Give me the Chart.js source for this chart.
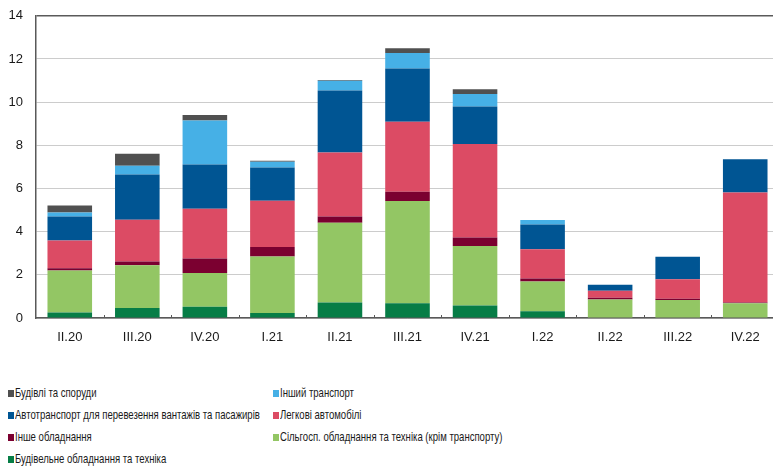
<!DOCTYPE html>
<html lang="uk">
<head>
  <meta charset="UTF-8">
  <title>Інвестиції в обладнання</title>
  <script src="https://cdn.jsdelivr.net/npm/chart.js"></script>
  <style>
    html, body {
      margin: 0;
      padding: 0;
      background: #fff;
      overflow: hidden;
    }
    #wrap {
      position: relative;
      width: 779px;
      height: 357px;
      margin-top: -5px;
    }
    #legend {
      position: absolute;
      left: 0;
      top: 383px;
      width: 773px;
      font-family: "Liberation Sans", Arial, sans-serif;
      font-size: 13px;
      color: #1a1a1a;
    }
    .item {
      position: absolute;
      height: 20px;
      line-height: 20px;
      white-space: nowrap;
    }
    .box {
      display: inline-block;
      width: 6px;
      height: 7px;
      margin-right: 1px;
      vertical-align: 0px;
    }
    .txt {
      display: inline-block;
      transform: scaleX(0.735);
      transform-origin: 0 50%;
    }
  </style>
</head>
<body>

<div id="wrap"><canvas id="chart"></canvas></div>
<div id="legend"></div>

<script>
// кварталы
const quarters = ['II.20', 'III.20', 'IV.20', 'I.21', 'II.21', 'III.21', 'IV.21', 'I.22', 'II.22', 'III.22', 'IV.22'];
const yTicks = [0, 2, 4, 6, 8, 10, 12, 14];

// серии (снизу вверх)
const budObl    = [0.26, 0.46, 0.52, 0.23, 0.72, 0.68, 0.58, 0.31, 0, 0, 0];
const silgosp   = [1.94, 1.98, 1.56, 2.62, 3.69, 4.74, 2.75, 1.38, 0.86, 0.83, 0.68];
const insheObl  = [0.11, 0.18, 0.68, 0.44, 0.29, 0.43, 0.40, 0.14, 0.08, 0.06, 0.04];
const legkovi   = [1.28, 1.93, 2.30, 2.14, 2.97, 3.24, 4.33, 1.36, 0.32, 0.90, 5.09];
const avto      = [1.11, 2.10, 2.05, 1.54, 2.87, 2.47, 1.74, 1.14, 0.28, 1.05, 1.55];
const inshTrans = [0.19, 0.40, 2.04, 0.27, 0.45, 0.72, 0.58, 0.21, 0, 0, 0];
const budivli   = [0.32, 0.56, 0.26, 0.05, 0.04, 0.22, 0.22, 0, 0, 0, 0];

const datasets = [
  { label: 'Будівельне обладнання та техніка', data: budObl, backgroundColor: '#067d46' },
  { label: 'Сільгосп. обладнання та техніка (крім транспорту)', data: silgosp, backgroundColor: '#93c664' },
  { label: 'Інше обладнання', data: insheObl, backgroundColor: '#7b0030' },
  { label: 'Легкові автомобілі', data: legkovi, backgroundColor: '#dc4b64' },
  { label: 'Автотранспорт для перевезення вантажів та пасажирів', data: avto, backgroundColor: '#005593' },
  { label: 'Інший транспорт', data: inshTrans, backgroundColor: '#46b0e6' },
  { label: 'Будівлі та споруди', data: budivli, backgroundColor: '#505050' }
];

// маленькие засечки между категориями (внутрь графика)
const innerTicks = {
  id: 'innerTicks',
  afterDatasetsDraw(chart) {
    const x = chart.scales.x;
    const ctx = chart.ctx;
    const bottom = chart.chartArea.bottom;
    const step = x.getPixelForValue(1) - x.getPixelForValue(0);
    ctx.save();
    ctx.strokeStyle = '#595959';
    ctx.lineWidth = 1;
    for (let i = 1; i < quarters.length; i++) {
      const px = Math.round(x.getPixelForValue(i) - step / 2) + 0.5;
      ctx.beginPath();
      ctx.moveTo(px, bottom);
      ctx.lineTo(px, bottom - 3);
      ctx.stroke();
    }
    ctx.restore();
  }
};

new Chart(document.getElementById('chart'), {
  type: 'bar',
  data: { labels: quarters, datasets: datasets },
  plugins: [innerTicks],
  options: {
    responsive: true,
    maintainAspectRatio: false,
    animation: false,
    layout: { padding: { top: 4, left: 0, right: 0, bottom: 0 } },
    datasets: {
      bar: { barPercentage: 0.66, categoryPercentage: 1, borderWidth: 0 }
    },
    plugins: {
      legend: { display: false },
      tooltip: { enabled: false }
    },
    scales: {
      x: {
        stacked: true,
        grid: { display: true, drawOnChartArea: false, drawTicks: false },
        border: { color: '#595959', width: 1.5 },
        ticks: {
          color: '#1a1a1a',
          padding: 12,
          font: { family: 'Liberation Sans, Arial, sans-serif', size: 13 }
        },
        afterFit: s => { s.height = 34; }
      },
      y: {
        stacked: true,
        min: 0,
        max: 14,
        afterBuildTicks: s => { s.ticks = yTicks.map(v => ({ value: v })); },
        grid: {
          color: c => c.tick && c.tick.value === 14 ? '#5a5a5a' : '#cccccc',
          lineWidth: c => c.tick && c.tick.value === 14 ? 1.5 : 1,
          drawTicks: false
        },
        border: { color: '#595959', width: 1.5 },
        ticks: {
          color: '#1a1a1a',
          padding: 13,
          font: { family: 'Liberation Sans, Arial, sans-serif', size: 13 }
        },
        afterFit: s => { s.width = 36; }
      }
    }
  }
});

// легенда в две колонки
const legendOrder = [
  [6, 0, 0], [5, 1, 0],
  [4, 0, 1], [3, 1, 1],
  [2, 0, 2], [1, 1, 2],
  [0, 0, 3]
];
const legend = document.getElementById('legend');
legendOrder.forEach(([idx, col, row]) => {
  const ds = datasets[idx];
  const el = document.createElement('div');
  el.className = 'item';
  el.style.left = (col === 0 ? 8 : 273) + 'px';
  el.style.top = (row * 22) + 'px';
  el.innerHTML = `<span class="box" style="background:${ds.backgroundColor}"></span><span class="txt">${ds.label}</span>`;
  legend.appendChild(el);
});
</script>

</body>
</html>
